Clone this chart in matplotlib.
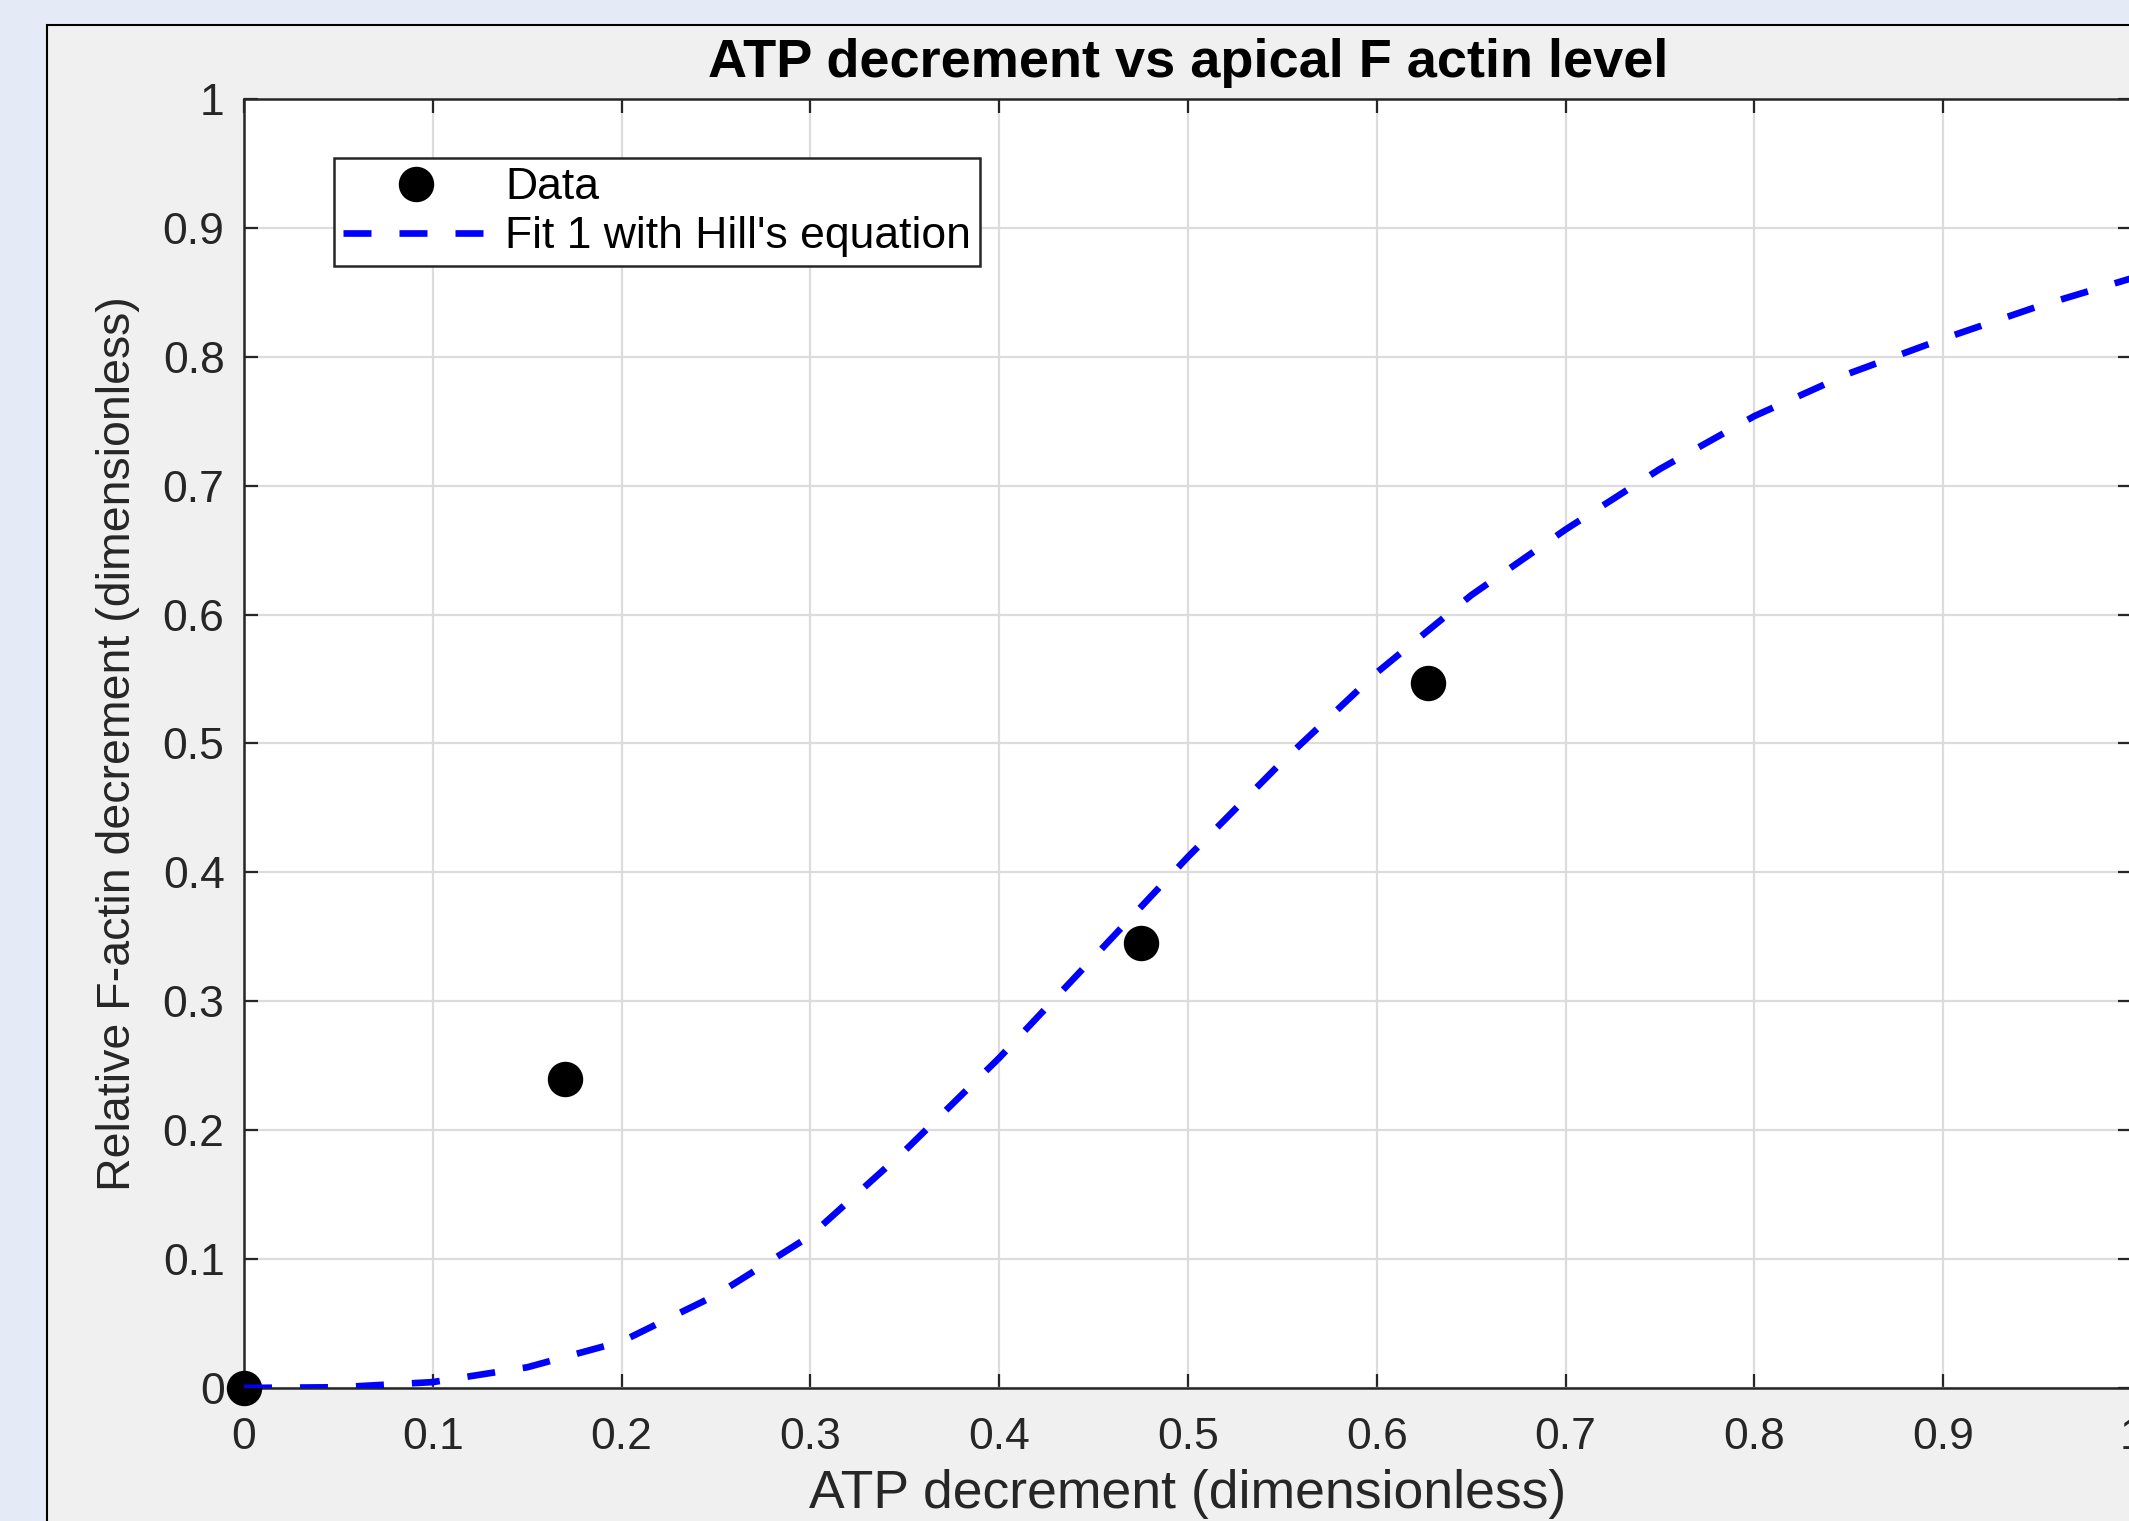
import matplotlib
matplotlib.use('Agg')
import matplotlib.pyplot as plt
from matplotlib.patches import Rectangle

# data points
atp_data = [0.0, 0.170, 0.475, 0.627]
factin_data = [0.0, 0.240, 0.345, 0.547]

# fitted Hill curve
fit_x = [0.0, 0.05, 0.1, 0.15, 0.2, 0.25, 0.3, 0.35, 0.4, 0.45, 0.5,
         0.55, 0.6, 0.65, 0.7, 0.75, 0.8, 0.85, 0.9, 0.95, 1.0]
fit_y = [0.0, 0.0005, 0.0045, 0.016, 0.036, 0.072, 0.118, 0.184, 0.256, 0.334, 0.412,
         0.486, 0.555, 0.615, 0.666, 0.713, 0.754, 0.787, 0.814, 0.839, 0.861]

ticks = [0, 0.1, 0.2, 0.3, 0.4, 0.5, 0.6, 0.7, 0.8, 0.9, 1]
tick_labels = ['0', '0.1', '0.2', '0.3', '0.4', '0.5', '0.6', '0.7', '0.8', '0.9', '1']

plt.rcParams['font.family'] = ['Liberation Sans', 'DejaVu Sans']
txt = '#262626'

fig = plt.figure(figsize=(21.29, 15.21), dpi=100, facecolor='#e4ebf7')
# grey figure window behind the axes
fig.add_artist(Rectangle((0.0221, -0.05), 1.1, 0.9836 + 0.05, transform=fig.transFigure,
                         facecolor='#f0f0f0', edgecolor='black', linewidth=1.5, zorder=0))

ax = fig.add_axes([0.1146, 0.0875, 0.8868, 0.8474])
ax.set_facecolor('white')

ax.plot(atp_data, factin_data, 'o', color='black', markersize=24.5, label='Data',
        clip_on=False, zorder=3)
ax.plot(fit_x, fit_y, '--', color='blue', linewidth=4.8, dashes=(4.2, 4.2),
        label="Fit 1 with Hill's equation", zorder=4)

ax.set_xlim(0, 1)
ax.set_ylim(0, 1)
ax.set_xticks(ticks)
ax.set_xticklabels(tick_labels)
ax.set_yticks(ticks)
ax.set_yticklabels(tick_labels)
ax.grid(True, color='#dcdcdc', linewidth=1.6)
ax.set_axisbelow(True)
ax.tick_params(direction='in', length=10, width=1.6, colors=txt, labelsize=32,
               top=True, right=True)
ax.tick_params(axis='x', pad=21)
ax.tick_params(axis='y', pad=14)
for s in ax.spines.values():
    s.set_color(txt)
    s.set_linewidth(1.8)

ax.set_title('ATP decrement vs apical F actin level', fontsize=39, fontweight='bold', pad=16)
ax.set_xlabel('ATP decrement (dimensionless)', fontsize=38.5, color=txt, labelpad=8)
ax.set_ylabel('Relative F-actin decrement (dimensionless)', fontsize=33.5, color=txt, labelpad=16)

leg = ax.legend(loc='upper left', bbox_to_anchor=(0.0477, 0.954), borderaxespad=0,
                fontsize=32, fancybox=False, framealpha=1, edgecolor=txt,
                handlelength=3.3, handletextpad=0.35, borderpad=0.2, labelspacing=0.18)
leg.get_frame().set_linewidth(1.8)

fig.savefig('out.png', dpi=100, facecolor=fig.get_facecolor())
